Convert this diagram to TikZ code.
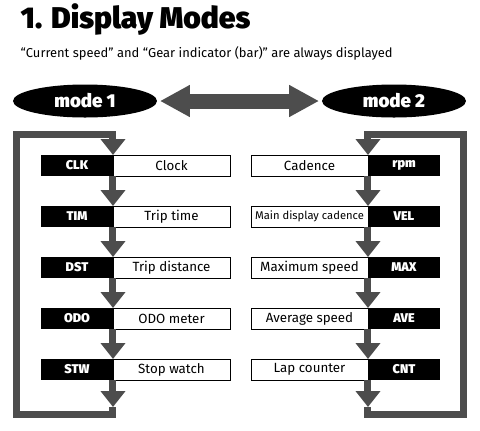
\documentclass[tikz,border=0pt]{standalone}
\usepackage{fontspec}
\setmainfont{Fira Sans}
\newfontfamily\heavyfont{Fira Sans Black}
\usetikzlibrary{arrows.meta, positioning, shapes.geometric}
\definecolor{flowgray}{HTML}{4D4D4D}

\begin{document}
\begin{tikzpicture}[
node distance=22.5pt,
codebox/.style={fill=black, text=white, font=\heavyfont\fontsize{9.5}{11}\selectfont, minimum width=54pt, minimum height=15.75pt, inner sep=0pt, outer sep=0pt},
fnbox/.style={draw, fill=white, line width=0.6pt, font=\fontsize{10}{12}\selectfont, minimum width=87.75pt, minimum height=15.75pt, inner sep=0pt, outer sep=0pt},
modebox/.style={ellipse, fill=black, text=white, font=\heavyfont\fontsize{14}{16}\selectfont, minimum width=108pt, minimum height=24.75pt, inner sep=0pt},
flow/.style={draw=flowgray, line width=5.25pt, line join=miter, -{Triangle[width=18pt,length=12pt]}},
swapline/.style={draw=flowgray, line width=11.25pt, {Triangle[width=22.5pt,length=22.5pt]}-{Triangle[width=22.5pt,length=22.5pt]}, shorten <=2pt, shorten >=2pt}
]
\useasboundingbox (0,0) rectangle (360pt,-322.5pt);

\node (title) [anchor=base west] at (12pt,-21pt) {\heavyfont\fontsize{22.5}{26}\selectfont 1. Display Modes};
\node (note) [anchor=base west] at (12pt,-42.75pt) {\fontsize{9.7}{11}\selectfont “Current speed” and “Gear indicator (bar)” are always displayed};

\node (mode1) [modebox] at (63.75pt,-75.75pt) {mode 1};
\node (mode2) [modebox] at (295.5pt,-75.75pt) {mode 2};
\draw[swapline] (mode1) -- (mode2);

\node (clk) [codebox, anchor=north west] at (30.75pt,-116.25pt) {CLK};
\node (clock) [fnbox, right=0pt of clk] {Clock};
\node (tim) [codebox, below=of clk] {TIM};
\node (triptime) [fnbox, right=0pt of tim] {Trip time};
\node (dst) [codebox, below=of tim] {DST};
\node (tripdist) [fnbox, right=0pt of dst] {Trip distance};
\node (odo) [codebox, below=of dst] {ODO};
\node (odometer) [fnbox, right=0pt of odo] {ODO meter};
\node (stw) [codebox, below=of odo] {STW};
\node (stopwatch) [fnbox, right=0pt of stw] {Stop watch};

\node (rpm) [codebox, anchor=north west] at (276pt,-116.25pt) {rpm};
\node (cadence) [fnbox, left=0pt of rpm] {Cadence};
\node (vel) [codebox, below=of rpm] {VEL};
\node (maincad) [fnbox, left=0pt of vel, font=\fontsize{8.4}{10}\selectfont] {Main display cadence};
\node (max) [codebox, below=of vel] {MAX};
\node (maxspeed) [fnbox, left=0pt of max] {Maximum speed};
\node (ave) [codebox, below=of max] {AVE};
\node (avespeed) [fnbox, left=0pt of ave] {Average speed};
\node (cnt) [codebox, below=of ave] {CNT};
\node (lapcount) [fnbox, left=0pt of cnt] {Lap counter};

\coordinate (lend) at (84.75pt,-305.25pt);
\coordinate (lbot) at (12.4pt,-310.5pt);
\coordinate (ltop) at (12.4pt,-100.5pt);
\coordinate (rend) at (276pt,-305.25pt);
\coordinate (rbot) at (347.6pt,-310.5pt);
\coordinate (rtop) at (347.6pt,-100.5pt);

\draw[flow] (lend) |- (lbot) -- (ltop) -| (clk.north east);
\draw[flow] (rend) |- (rbot) -- (rtop) -| (rpm.north west);

\draw[flow] (clk.south east) -- (tim.north east);
\draw[flow] (tim.south east) -- (dst.north east);
\draw[flow] (dst.south east) -- (odo.north east);
\draw[flow] (odo.south east) -- (stw.north east);
\draw[flow] (stw.south east) -- (lend);

\draw[flow] (rpm.south west) -- (vel.north west);
\draw[flow] (vel.south west) -- (max.north west);
\draw[flow] (max.south west) -- (ave.north west);
\draw[flow] (ave.south west) -- (cnt.north west);
\draw[flow] (cnt.south west) -- (rend);

\end{tikzpicture}
\end{document}
